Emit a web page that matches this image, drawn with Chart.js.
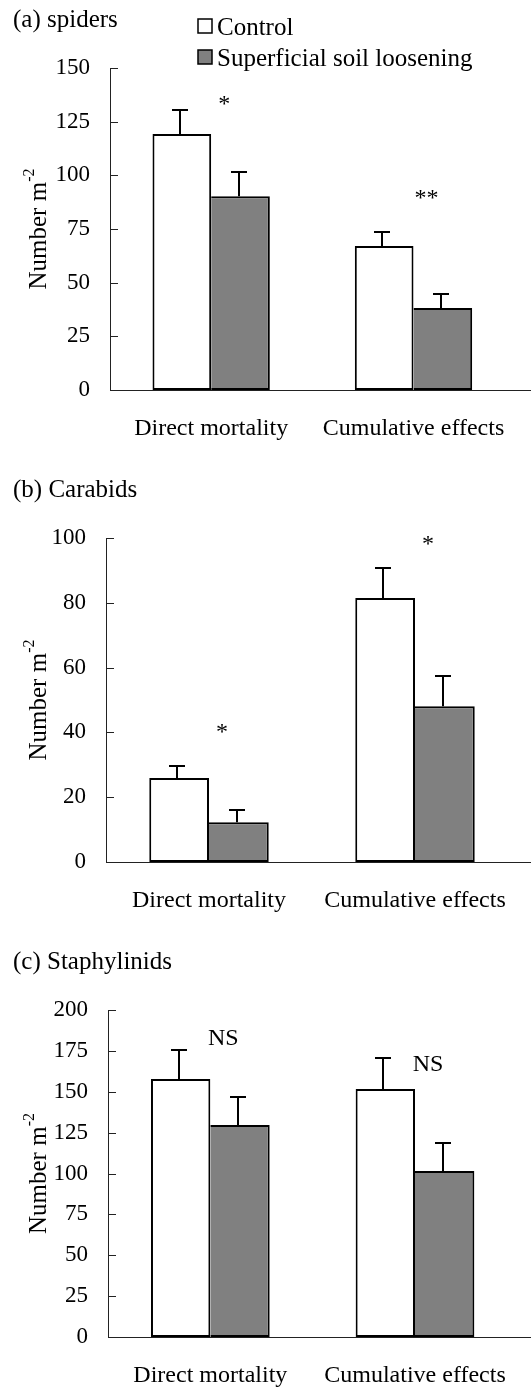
<!DOCTYPE html>
<html>
<head>
<meta charset="utf-8">
<script src="https://cdn.jsdelivr.net/npm/chart.js@4.4.0/dist/chart.umd.min.js"></script>
<style>
  body { margin: 0; background: #fff; width: 531px; height: 1389px; position: relative; overflow: hidden; }
  .painel { position: absolute; left: 0; width: 531px; }
</style>
</head>
<body>
<div class="painel" style="top:0;height:460px"><canvas id="grafico_a"></canvas></div>
<div class="painel" style="top:460px;height:472px"><canvas id="grafico_b"></canvas></div>
<div class="painel" style="top:932px;height:457px"><canvas id="grafico_c"></canvas></div>
<script>
// dados
var categorias = ["Direct mortality", "Cumulative effects"];
var series = ["Control", "Superficial soil loosening"];

// (a) spiders
var aranhasControle = [119.2, 67.1];
var aranhasControleErro = [11.2, 6.5];
var aranhasSolo = [90.3, 38.2];
var aranhasSoloErro = [11.2, 6.5];
var aranhasSig = ["*", "**"];
var aranhasSigY = [130, 86];
var aranhasTicks = [0, 25, 50, 75, 100, 125, 150];

// (b) Carabids
var carabideosControle = [25.9, 81.5];
var carabideosControleErro = [3.7, 9.2];
var carabideosSolo = [12.3, 48.1];
var carabideosSoloErro = [3.7, 9.3];
var carabideosSig = ["*", "*"];
var carabideosSigY = [38, 96];
var carabideosTicks = [0, 20, 40, 60, 80, 100];

// (c) Staphylinids
var estafilinideosControle = [157.8, 151.7];
var estafilinideosControleErro = [17.7, 18.9];
var estafilinideosSolo = [129.7, 101.5];
var estafilinideosSoloErro = [17.1, 17.2];
var estafilinideosSig = ["NS", "NS"];
var estafilinideosSigY = [178.6, 162.7];
var estafilinideosTicks = [0, 25, 50, 75, 100, 125, 150, 175, 200];

var fonte = '"Liberation Serif", "Times New Roman", serif';
Chart.defaults.color = "#000";
Chart.defaults.font.family = fonte;

// barras de erro, rótulos de significância, título, legenda e marcas internas do eixo
var decoracao = {
    id: "decoracao",
    afterDatasetsDraw: function (chart, args, opts) {
        var ctx = chart.ctx;
        var area = chart.chartArea;
        var y = chart.scales.y;
        var x = chart.scales.x;
        ctx.save();

        // barras de erro
        ctx.strokeStyle = "#000";
        ctx.lineWidth = 2;
        chart.data.datasets.forEach(function (ds, i) {
            var meta = chart.getDatasetMeta(i);
            meta.data.forEach(function (barra, j) {
                var topo = Math.round(y.getPixelForValue(ds.data[j] + ds.erro[j]));
                var bx = Math.round(barra.x) - 2;
                ctx.beginPath();
                ctx.moveTo(bx, barra.y);
                ctx.lineTo(bx, topo);
                ctx.moveTo(bx - 8, topo);
                ctx.lineTo(bx + 8, topo);
                ctx.stroke();
            });
        });

        // marcas do eixo y para dentro
        ctx.lineWidth = 1;
        ctx.strokeStyle = "#222";
        y.ticks.forEach(function (t) {
            var py = Math.round(y.getPixelForValue(t.value)) + 0.5;
            ctx.beginPath();
            ctx.moveTo(area.left, py);
            ctx.lineTo(area.left + 8, py);
            ctx.stroke();
        });

        // eixo x continua até a borda
        ctx.beginPath();
        ctx.moveTo(area.right, Math.round(area.bottom) + 0.5);
        ctx.lineTo(chart.width, Math.round(area.bottom) + 0.5);
        ctx.stroke();

        // significância
        ctx.fillStyle = "#000";
        ctx.textAlign = "center";
        ctx.textBaseline = "alphabetic";
        ctx.font = "24px " + fonte;
        opts.sig.forEach(function (s, j) {
            ctx.fillText(s, x.getPixelForValue(j) + 13, y.getPixelForValue(opts.sigY[j]));
        });

        // título do painel
        ctx.textAlign = "left";
        ctx.font = "25px " + fonte;
        ctx.fillText(opts.titulo, 13, area.top - 41);

        // título do eixo y com expoente
        var cy = (area.top + area.bottom) / 2;
        ctx.save();
        ctx.translate(46, cy);
        ctx.rotate(-Math.PI / 2);
        ctx.font = "25px " + fonte;
        var principal = "Number m";
        var w1 = ctx.measureText(principal).width;
        ctx.font = "16px " + fonte;
        var w2 = ctx.measureText("-2").width;
        var x0 = -(w1 + w2) / 2;
        ctx.font = "25px " + fonte;
        ctx.fillText(principal, x0, 0);
        ctx.font = "16px " + fonte;
        ctx.fillText("-2", x0 + w1, -12);
        ctx.restore();

        // legenda
        if (opts.legenda) {
            ctx.font = "25px " + fonte;
            chart.data.datasets.forEach(function (ds, i) {
                var topo = area.top - 49 + i * 31;
                ctx.fillStyle = ds.backgroundColor;
                ctx.fillRect(198, topo, 14, 14);
                ctx.strokeStyle = "#000";
                ctx.lineWidth = 1.5;
                ctx.strokeRect(198, topo, 14, 14);
                ctx.fillStyle = "#000";
                ctx.fillText(ds.label, 217, topo + 16);
            });
        }
        ctx.restore();
    }
};

function criarGrafico(id, controle, controleErro, solo, soloErro, ticks, sig, sigY, titulo, esquerda, direita, topo, fundo, legenda) {
    var contexto = document.getElementById(id).getContext("2d");
    return new Chart(contexto, {
        type: "bar",
        data: {
            labels: categorias,
            datasets: [{
                label: series[0],
                data: controle,
                erro: controleErro,
                backgroundColor: "#ffffff",
                borderColor: "#000",
                borderWidth: { top: 2, left: 2, right: 2, bottom: 2 },
                borderSkipped: false
            }, {
                label: series[1],
                data: solo,
                erro: soloErro,
                backgroundColor: "#808080",
                borderColor: "#000",
                borderWidth: { top: 2, left: 0, right: 2, bottom: 2 },
                borderSkipped: false
            }]
        },
        options: {
            responsive: true,
            maintainAspectRatio: false,
            animation: false,
            events: [],
            categoryPercentage: 0.58,
            barPercentage: 1,
            layout: { padding: { top: topo, bottom: fundo, left: 0, right: 531 - direita } },
            scales: {
                x: {
                    grid: { display: false, drawTicks: false },
                    border: { display: true, color: "#222", width: 1 },
                    ticks: { font: { size: 24 }, padding: 24, maxRotation: 0 },
                    afterFit: function (escala) { escala.height = 52; }
                },
                y: {
                    min: ticks[0],
                    max: ticks[ticks.length - 1],
                    afterBuildTicks: function (escala) {
                        escala.ticks = ticks.map(function (v) { return { value: v }; });
                    },
                    grid: { display: false, drawTicks: false },
                    border: { display: true, color: "#222", width: 1 },
                    ticks: { font: { size: 23 }, padding: 20 },
                    afterFit: function (escala) { escala.width = esquerda; }
                }
            },
            plugins: {
                legend: { display: false },
                tooltip: { enabled: false },
                decoracao: { sig: sig, sigY: sigY, titulo: titulo, legenda: legenda }
            }
        },
        plugins: [decoracao]
    });
}

var graficoA = criarGrafico("grafico_a", aranhasControle, aranhasControleErro, aranhasSolo, aranhasSoloErro,
    aranhasTicks, aranhasSig, aranhasSigY, "(a) spiders", 110, 520, 68, 18, true);

var graficoB = criarGrafico("grafico_b", carabideosControle, carabideosControleErro, carabideosSolo, carabideosSoloErro,
    carabideosTicks, carabideosSig, carabideosSigY, "(b) Carabids", 106, 526, 78, 18, false);

var graficoC = criarGrafico("grafico_c", estafilinideosControle, estafilinideosControleErro, estafilinideosSolo, estafilinideosSoloErro,
    estafilinideosTicks, estafilinideosSig, estafilinideosSigY, "(c) Staphylinids", 108, 526, 78, 0, false);
</script>
</body>
</html>
